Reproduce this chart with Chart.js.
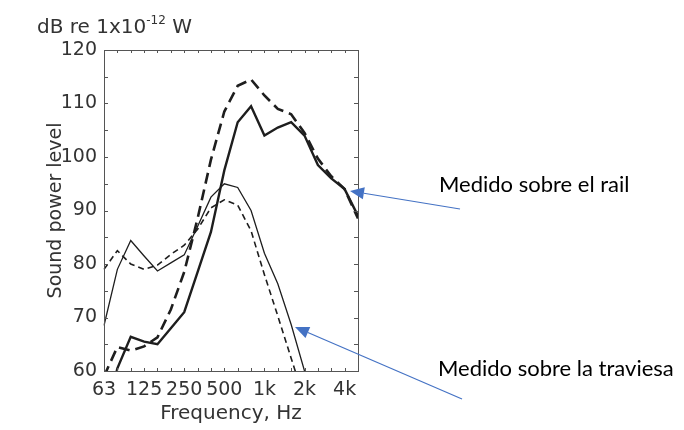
<!DOCTYPE html>
<html>
<head>
<meta charset="utf-8">
<script src="https://cdn.jsdelivr.net/npm/chart.js@4"></script>
<style>
  html, body { margin: 0; padding: 0; background: #fff; }
  #wrap { width: 684px; height: 430px; }
</style>
</head>
<body>
<div id="wrap"><canvas id="chart" width="684" height="430"></canvas></div>
<script>
// Third-octave bands, 63 Hz to 5 kHz
const bands = ['63', '80', '100', '125', '160', '200', '250', '315', '400', '500',
               '630', '800', '1k', '1.25k', '1.6k', '2k', '2.5k', '3.15k', '4k', '5k'];
const shownBands = ['63', '125', '250', '500', '1k', '2k', '4k'];

// Sound power level, dB re 1e-12 W
const railSolid    = [50, 60.5, 66.4, 65.5, 65, 68, 71, 78.5, 86, 97.5, 106.5, 109.5, 104, 105.5, 106.5, 104, 98.5, 96, 94, 89];
const railDashed   = [59, 64.5, 63.8, 64.6, 66.3, 71.5, 78.5, 88.5, 99.5, 108.5, 113.3, 114.5, 111.5, 109, 108, 104.5, 99.7, 96.4, 94, 88.5];
const sleeperSolid = [68.5, 79, 84.4, 81.5, 78.7, 80.2, 81.7, 87, 92.5, 95, 94.3, 90, 82, 76.3, 68.7, 60, null, null, null, null];
const sleeperDashed= [79, 82.5, 80, 79, 79.8, 81.8, 83.5, 86.5, 90.5, 92, 91, 86.2, 78, 70.3, 62.4, 54.5, null, null, null, null];

const yMin = 60, yMax = 120;

const textColor = '#333';
const lineColor = '#1e1e1e';
const arrowColor = '#4472C4';

// Box with inward ticks, top label and the two callouts
const decorPlugin = {
    id: 'decor',
    afterDatasetsDraw(chart) {
        const { ctx, chartArea: a, scales: { x, y } } = chart;
        ctx.save();
        ctx.strokeStyle = '#555';
        ctx.lineWidth = 1;
        ctx.strokeRect(a.left + 0.5, a.top + 0.5, a.right - a.left, a.bottom - a.top);
        ctx.beginPath();
        bands.forEach((b, i) => {
            const px = Math.round(x.getPixelForValue(i)) + 0.5;
            ctx.moveTo(px, a.bottom); ctx.lineTo(px, a.bottom - 3);
            ctx.moveTo(px, a.top); ctx.lineTo(px, a.top + 3);
        });
        for (let v = yMin; v <= yMax; v += 5) {
            const py = Math.round(y.getPixelForValue(v)) + 0.5;
            ctx.moveTo(a.left, py); ctx.lineTo(a.left + 4, py);
            ctx.moveTo(a.right, py); ctx.lineTo(a.right - 4, py);
        }
        ctx.stroke();
        ctx.restore();
    },
    afterDraw(chart) {
        const ctx = chart.ctx;
        ctx.save();
        // unit label with superscript
        ctx.fillStyle = textColor;
        ctx.textBaseline = 'alphabetic';
        ctx.font = '20px "DejaVu Sans"';
        let tx = 37;
        ctx.fillText('dB re 1x10', tx, 33);
        tx += ctx.measureText('dB re 1x10').width;
        ctx.font = '12px "DejaVu Sans"';
        ctx.fillText('-12', tx, 24);
        tx += ctx.measureText('-12').width;
        ctx.font = '20px "DejaVu Sans"';
        ctx.fillText(' W', tx, 33);

        // callouts
        ctx.font = '22px Lato';
        ctx.fillStyle = '#000';
        ctx.fillText('Medido sobre el rail', 439, 192);
        ctx.fillText('Medido sobre la traviesa', 438, 376);
        drawArrow(ctx, 460, 209, 350, 191);
        drawArrow(ctx, 462, 399, 295, 327);
        ctx.restore();
    }
};

function drawArrow(ctx, x0, y0, x1, y1) {
    const ang = Math.atan2(y1 - y0, x1 - x0);
    const len = 14, half = 6;
    const bx = x1 - len * Math.cos(ang), by = y1 - len * Math.sin(ang);
    ctx.strokeStyle = arrowColor;
    ctx.fillStyle = arrowColor;
    ctx.lineWidth = 1.2;
    ctx.beginPath();
    ctx.moveTo(x0, y0);
    ctx.lineTo(bx, by);
    ctx.stroke();
    ctx.beginPath();
    ctx.moveTo(x1, y1);
    ctx.lineTo(bx + half * Math.sin(ang), by - half * Math.cos(ang));
    ctx.lineTo(bx - half * Math.sin(ang), by + half * Math.cos(ang));
    ctx.closePath();
    ctx.fill();
}

function makeSet(label, data, width, dash) {
    return {
        label: label,
        data: data,
        borderColor: lineColor,
        borderWidth: width,
        borderDash: dash,
        pointRadius: 0,
        tension: 0,
        fill: false,
        spanGaps: false
    };
}

const ctx = document.getElementById('chart').getContext('2d');
new Chart(ctx, {
    type: 'line',
    data: {
        labels: bands,
        datasets: [
            makeSet('Rail', railSolid, 2.4, []),
            makeSet('Rail (2)', railDashed, 2.6, [11, 6]),
            makeSet('Traviesa', sleeperSolid, 1.3, []),
            makeSet('Traviesa (2)', sleeperDashed, 1.6, [6, 4])
        ]
    },
    options: {
        responsive: false,
        animation: false,
        layout: { padding: { left: 41, right: 326, top: 50, bottom: 4 } },
        plugins: {
            legend: { display: false },
            tooltip: { enabled: false }
        },
        scales: {
            x: {
                type: 'category',
                offset: false,
                grid: { display: false, drawTicks: false },
                border: { display: false },
                ticks: {
                    autoSkip: false,
                    maxRotation: 0,
                    padding: 8,
                    color: textColor,
                    font: { family: 'DejaVu Sans', size: 19 },
                    callback: function(value) {
                        const b = bands[value];
                        return shownBands.includes(b) ? b : '';
                    }
                },
                title: {
                    display: true,
                    text: 'Frequency, Hz',
                    color: textColor,
                    font: { family: 'DejaVu Sans', size: 20 },
                    padding: { top: 0, bottom: 0 }
                },
                afterFit: function(scale) { scale.height = 55; }
            },
            y: {
                min: yMin,
                max: yMax,
                grid: { display: false, drawTicks: false },
                border: { display: false },
                ticks: {
                    stepSize: 5,
                    padding: 7,
                    color: textColor,
                    font: { family: 'DejaVu Sans', size: 19 },
                    callback: function(value) {
                        return value % 10 === 0 ? value : '';
                    }
                },
                title: {
                    display: true,
                    text: 'Sound power level',
                    color: textColor,
                    font: { family: 'DejaVu Sans', size: 19 },
                    padding: { top: 4, bottom: 4 }
                },
                afterFit: function(scale) { scale.width = 63; }
            }
        }
    },
    plugins: [decorPlugin]
});
</script>
</body>
</html>
